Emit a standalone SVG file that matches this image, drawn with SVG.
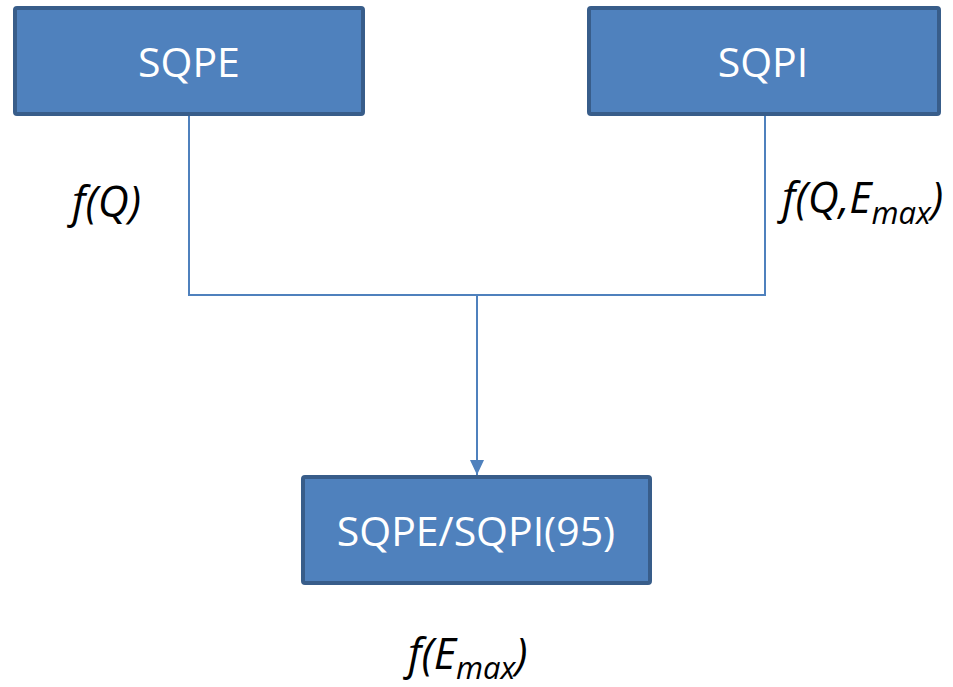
<svg xmlns="http://www.w3.org/2000/svg" width="953" height="687" viewBox="0 0 953 687">
<style>
.box{fill:#4F81BD;stroke:#385D8A;stroke-width:4}
.lbl{font-family:"Open Sans","Liberation Sans",sans-serif;font-size:41px;fill:#ffffff;text-anchor:middle}
.fn{font-family:"Open Sans","Liberation Sans",sans-serif;font-size:43px;font-style:italic;fill:#000000}
.sub{font-size:31px}
.conn{fill:none;stroke:#4F81BD;stroke-width:2}
</style>
<defs>
<marker id="arr" markerWidth="16" markerHeight="14" refX="15" refY="7" orient="auto" markerUnits="userSpaceOnUse">
<path d="M0,0 L15,7 L0,14 Z" fill="#4F81BD"/>
</marker>
</defs>
<g id="connectors">
<polyline class="conn" points="189,116 189,295 765,295 765,116"/>
<line class="conn" x1="477" y1="295" x2="477" y2="475" marker-end="url(#arr)"/>
</g>
<g id="sqpe">
<rect class="box" x="15" y="8" width="348" height="106" rx="2"/>
<text class="lbl" x="189" y="77">SQPE</text>
</g>
<g id="sqpi">
<rect class="box" x="589" y="8" width="350" height="106" rx="2"/>
<text class="lbl" x="763" y="77">SQPI</text>
</g>
<g id="result">
<rect class="box" x="303" y="477" width="347" height="106" rx="2"/>
<text class="lbl" x="476" y="546">SQPE/SQPI(95)</text>
</g>
<g id="labels">
<text class="fn" x="72" y="217">f(Q)</text>
<text class="fn" x="782" y="213">f(Q,E<tspan class="sub" dy="11">max</tspan><tspan dy="-11">)</tspan></text>
<text class="fn" x="408" y="669">f(E<tspan class="sub" dy="10">max</tspan><tspan dy="-10">)</tspan></text>
</g>
</svg>
